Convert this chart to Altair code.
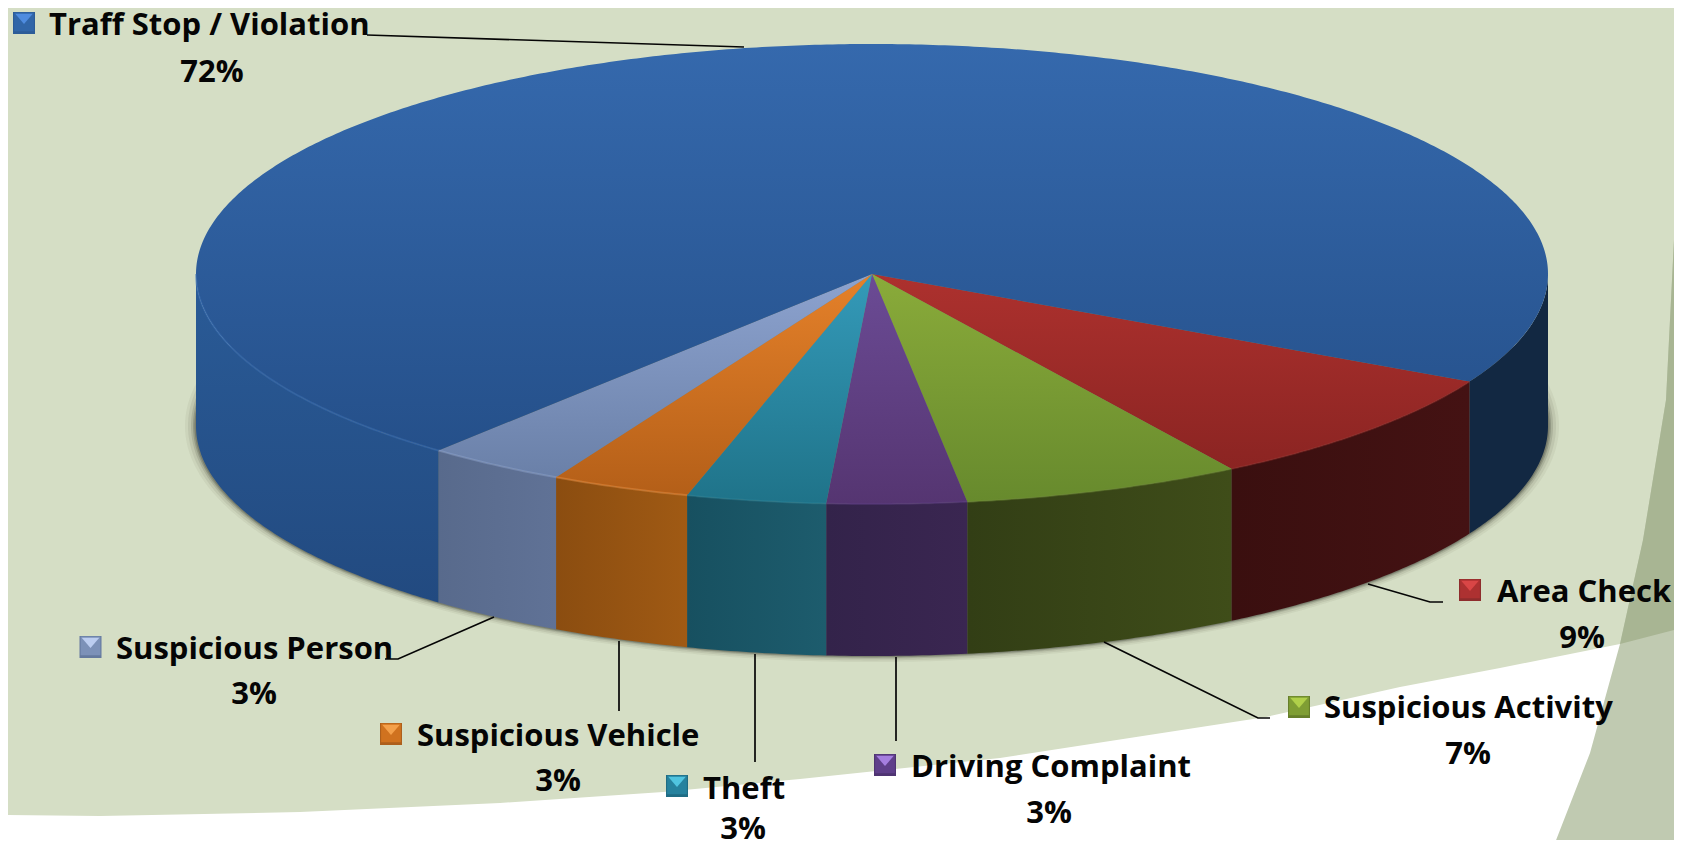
import altair as alt
import numpy as np

# ---- chart values ----
categories = ["Area Check", "Suspicious Activity", "Driving Complaint", "Theft",
              "Suspicious Vehicle", "Suspicious Person", "Traff Stop / Violation"]
shares = [8.33, 6.67, 3.33, 3.33, 3.33, 3.34, 71.67]
percent_labels = ["9%", "7%", "3%", "3%", "3%", "3%", "72%"]

# top-face gradient colours (top, bottom)
top_light = ["#ad312e", "#8aab3a", "#6b4b95", "#349ab9", "#e5812a", "#8da3cf", "#3569ad"]
top_dark = ["#8b2422", "#678a2d", "#553571", "#1f7389", "#b45f18", "#6a80a8", "#25508a"]
# wall colours (left, right)
wall_light = ["#441213", "#3f4d19", "#3a2651", "#1d5c6d", "#a05a14", "#607296", "#2a5b97"]
wall_dark = ["#3a0f0f", "#323e15", "#33234a", "#175060", "#8b4d10", "#586a8c", "#224a80"]
rim_colors = ["#9a2d2b", "#6f8f33", "#5d3d82", "#2b8399", "#ef9040", "#8ea5d0", "#3c72b8"]
far_wall_color = "#122842"

# legend glyph colours
glyph_edge = ["#8e2c2c", "#667f2a", "#4f3472", "#1f6c84", "#ad5f1c", "#64799e", "#2c5c98"]
glyph_main = ["#ad3131", "#7f9e34", "#5f3f8a", "#26829e", "#d0721f", "#7c91b8", "#3166a8"]
glyph_tri = ["#d94646", "#b0d04a", "#a57ee0", "#50c4e0", "#f4a04a", "#bccdf0", "#4f8cdf"]

# label placement on the slide (reference pixels)
label_x = [1497, 1324, 911, 703, 417, 116, 49]
label_y = [602, 718, 777, 799, 746, 659, 35]
pct_x = [1582, 1468, 1049, 743, 558, 254, 212]
pct_y = [648, 764, 823, 839, 791, 704, 82]
glyph_x = [1470, 1299, 885, 677, 391, 90.5, 24]
glyph_y = [590, 707, 765, 786, 734, 647, 23]

# leader lines, one list per category
leader_x = [[1368, 1430, 1443], [1104, 1258, 1270], [896, 896], [755, 755], [619, 619],
            [494, 398, 385], [367, 744]]
leader_y = [[584, 602, 602], [642, 718, 718], [657, 741], [654, 762], [641, 711],
            [617, 659, 659], [35, 47]]

# slide background outlines
white_x = [0, 100, 300, 500, 663, 800, 1000, 1266, 1400, 1500, 1620, 1620, 0]
white_y = [815, 816, 812, 803, 792, 779, 758, 717, 687, 668, 644, 848, 848]
band_x = [1682, 1680, 1676, 1666, 1643, 1620, 1590, 1553, 1682]
band_y = [0, 30, 200, 400, 540, 644, 753, 848, 848]
upper_x = [1682, 1680, 1676, 1666, 1643, 1620, 1682]
upper_y = [0, 30, 200, 400, 540, 644, 628]

# pie shape
CX, CY, RX, RY, DEPTH = 872, 274, 676, 230, 152
START = 27.9

W, H = 1666, 832
proj = dict(type="identity", scale=1, translate=[-8, -8])


def arc(a0, a1, cy=CY, rx=RX, ry=RY):
    n = max(3, int(abs(a1 - a0) * 2))
    t = np.radians(np.linspace(a0, a1, n))
    return [[float(CX + rx * np.cos(v)), float(cy + ry * np.sin(v))] for v in t]


def poly(points):
    return {"type": "Feature", "properties": {},
            "geometry": {"type": "Polygon", "coordinates": [points + [points[0]]]}}


def line(points):
    return {"type": "Feature", "properties": {},
            "geometry": {"type": "LineString", "coordinates": points}}


def shape(feature, **mark):
    return alt.Chart(alt.Data(values=[feature])).mark_geoshape(**mark).project(**proj)


def vgrad(a, b):
    return alt.Gradient(gradient="linear", x1=0, y1=0, x2=0, y2=1,
                        stops=[alt.GradientStop(color=a, offset=0), alt.GradientStop(color=b, offset=1)])


def hgrad(a, b):
    return alt.Gradient(gradient="linear", x1=0, y1=0, x2=1, y2=0,
                        stops=[alt.GradientStop(color=a, offset=0), alt.GradientStop(color=b, offset=1)])


layers = [
    shape(poly([[0, 0], [1682, 0], [1682, 848], [0, 848]]), fill="#d5dec5", stroke=None),
    shape(poly([[x, y] for x, y in zip(white_x, white_y)]), fill="#ffffff", stroke=None),
    shape(poly([[x, y] for x, y in zip(band_x, band_y)]), fill="#c0cab1", stroke=None),
    shape(poly([[x, y] for x, y in zip(upper_x, upper_y)]), fill="#a8b593", stroke=None),
]

# soft shadow under the body
for grow, alpha in [(11, 0.05), (8, 0.08), (5, 0.12), (3, 0.18), (1.5, 0.22)]:
    layers.append(shape(poly(arc(0, 360, CY + DEPTH, RX + grow, RY + grow * 0.55)),
                        fill="#20241a", fillOpacity=alpha, stroke=None))

# angular extent of each slice
edges = START + np.concatenate([[0], np.cumsum(shares)]) * (360 / sum(shares))
spans = [(float(edges[i]), float(edges[i + 1])) for i in range(len(shares))]

# walls
far_wall = arc(0, START)
layers.append(shape(poly(far_wall + [[x, y + DEPTH] for x, y in reversed(far_wall)]),
                    fill=far_wall_color, stroke=None))
for i, (a0, a1) in enumerate(spans):
    stop = min(a1, 180.0)
    edge = arc(a0, stop)
    pts = edge + [[x, y + DEPTH] for x, y in reversed(edge)]
    fill = hgrad(wall_dark[i], wall_light[i]) if i < 6 else vgrad(wall_light[i], wall_dark[i])
    layers.append(shape(poly(pts), fill=fill, stroke=None))

# top faces
for i, (a0, a1) in enumerate(spans):
    pts = [[float(CX), float(CY)]] + arc(a0, a1)
    layers.append(shape(poly(pts), fill=vgrad(top_light[i], top_dark[i]), stroke=None))

# bevel along the front rim
for i, (a0, a1) in enumerate(spans):
    stop = min(a1, 180.0)
    layers.append(shape(line(arc(a0, stop)), filled=False, stroke=rim_colors[i],
                        strokeWidth=2, strokeOpacity=0.45))

x_enc = alt.X("x:Q", axis=None, scale=alt.Scale(domain=[8, 1674], nice=False, zero=False))
y_enc = alt.Y("y:Q", axis=None, scale=alt.Scale(domain=[840, 8], nice=False, zero=False))

# leaders
leader_rows = [{"c": c, "o": j, "x": x, "y": y}
               for c, xs, ys in zip(categories, leader_x, leader_y)
               for j, (x, y) in enumerate(zip(xs, ys))]
layers.append(alt.Chart(alt.Data(values=leader_rows)).mark_line(color="#050505", strokeWidth=1.7).encode(
    x=x_enc, y=y_enc, detail="c:N", order="o:Q"))

# legend glyphs
glyph_rows = [{"c": c, "x": x, "y": y, "e": e, "m": m, "t": t}
              for c, x, y, e, m, t in zip(categories, glyph_x, glyph_y, glyph_edge, glyph_main, glyph_tri)]
gdata = alt.Data(values=glyph_rows)
layers.append(alt.Chart(gdata).mark_point(shape="square", filled=True, size=484, opacity=1).encode(
    x=x_enc, y=y_enc, color=alt.Color("e:N", scale=None)))
layers.append(alt.Chart(gdata).mark_point(shape="M -0.9 -0.95 L 0.9 -0.95 L 0.9 0.75 L -0.9 0.75 Z",
                                          filled=True, size=484, opacity=1).encode(
    x=x_enc, y=y_enc, color=alt.Color("m:N", scale=None)))
layers.append(alt.Chart(gdata).mark_point(shape="M -0.8 -0.85 L 0.8 -0.85 L 0 0.1 Z",
                                          filled=True, size=484, opacity=1).encode(
    x=x_enc, y=y_enc, color=alt.Color("t:N", scale=None)))

# text
name_rows = [{"x": x, "y": y, "t": t} for x, y, t in zip(label_x, label_y, categories)]
pct_rows = [{"x": x, "y": y, "t": t} for x, y, t in zip(pct_x, pct_y, percent_labels)]
FONT = "Open Sans"
layers.append(alt.Chart(alt.Data(values=name_rows)).mark_text(
    align="left", baseline="alphabetic", font=FONT, fontWeight="bold", fontSize=31, color="#050505").encode(
    x=x_enc, y=y_enc, text="t:N"))
layers.append(alt.Chart(alt.Data(values=pct_rows)).mark_text(
    align="center", baseline="alphabetic", font=FONT, fontWeight="bold", fontSize=31, color="#050505").encode(
    x=x_enc, y=y_enc, text="t:N"))

chart = alt.layer(*layers).properties(
    width=W, height=H, padding=0, autosize=alt.AutoSizeParams(type="none"),
    background="#d5dec5",
).configure_view(stroke=None)

chart.save("out.html", embed_options={"renderer": "svg", "actions": False})
